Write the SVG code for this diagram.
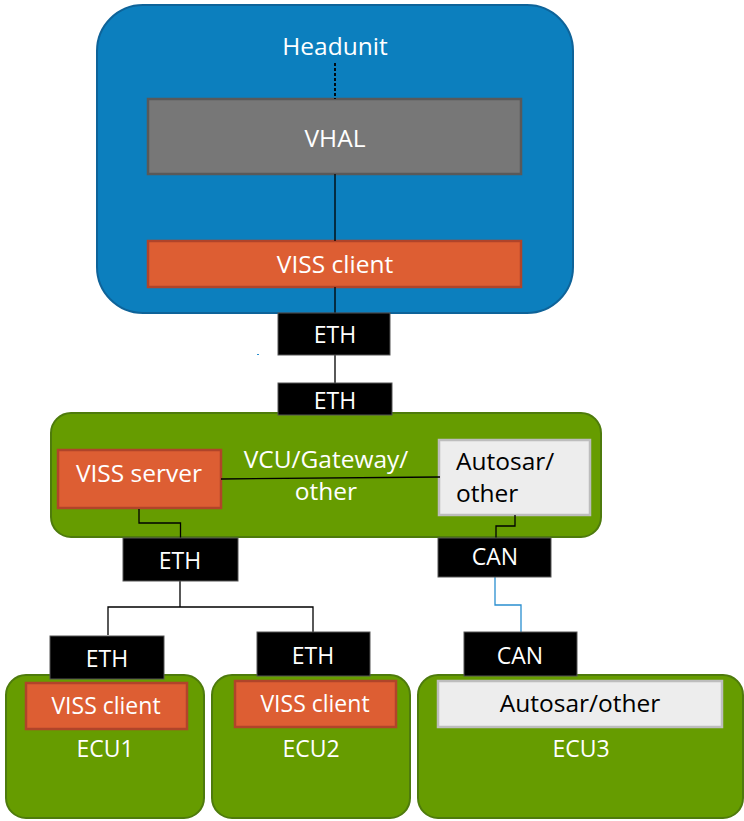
<svg xmlns="http://www.w3.org/2000/svg" width="744" height="821" viewBox="0 0 744 821">
<style>
text{font-family:"Open Sans","Noto Sans","Liberation Sans",sans-serif;font-size:24.5px;text-anchor:middle;fill:#fff}
.sm{font-size:23px}
.dark{fill:#000}
.hu{fill:#0C7FBE;stroke:#0E6399;stroke-width:2}
.green{fill:#669C00;stroke:#4E7B0C;stroke-width:2}
.orange{fill:#DD5E33;stroke:#B0442A;stroke-width:2.5}
.gray{fill:#777;stroke:#595959;stroke-width:2.5}
.light{fill:#EDEDED;stroke:#BDBDBD;stroke-width:2.5}
.port{fill:#000;stroke:#555;stroke-width:1}
.ln{fill:none;stroke:#000;stroke-width:1.3}
.can{fill:none;stroke:#2A8FD0;stroke-width:1.3}
</style>
<g id="headunit">
<rect class="hu" x="97" y="5" width="476" height="308" rx="46"/>
<text x="335" y="55">Headunit</text>
</g>
<g id="vhal">
<rect class="gray" x="148" y="99" width="373" height="75"/>
<text x="335" y="147">VHAL</text>
</g>
<g id="viss-client-hu">
<rect class="orange" x="148" y="241" width="373" height="46"/>
<text x="335" y="273">VISS client</text>
</g>
<g id="vcu">
<rect class="green" x="51" y="413" width="550" height="124" rx="20"/>
<text x="326" y="468">VCU/Gateway/</text>
<text x="326" y="500">other</text>
</g>
<g id="viss-server">
<rect class="orange" x="58" y="450" width="163" height="58"/>
<text x="139" y="482">VISS server</text>
</g>
<g id="autosar-vcu">
<rect class="light" x="439" y="440" width="151" height="75"/>
<text class="dark" x="456" y="470" style="text-anchor:start">Autosar/</text>
<text class="dark" x="456" y="502" style="text-anchor:start">other</text>
</g>
<g id="ecu1">
<rect class="green" x="6" y="675" width="198" height="143" rx="20"/>
<rect class="orange" x="26" y="683" width="161" height="46"/>
<text class="sm" x="106" y="714">VISS client</text>
<text class="sm" x="105" y="757">ECU1</text>
</g>
<g id="ecu2">
<rect class="green" x="212" y="675" width="198" height="143" rx="20"/>
<rect class="orange" x="235" y="681" width="161" height="46"/>
<text class="sm" x="315" y="712">VISS client</text>
<text class="sm" x="311" y="757">ECU2</text>
</g>
<g id="ecu3">
<rect class="green" x="418" y="675" width="325" height="143" rx="20"/>
<rect class="light" x="438" y="681" width="284" height="46"/>
<text class="dark" x="580" y="712">Autosar/other</text>
<text class="sm" x="581" y="757">ECU3</text>
</g>
<g id="connectors">
<line x1="335" y1="63" x2="335" y2="99" stroke="#000" stroke-width="1.8" stroke-dasharray="3,2"/>
<path class="ln" d="M335 174V241M335 287V313M335 355V383"/>
<path class="ln" d="M221 479L440 477"/>
<path class="ln" d="M139 509V523H180.5V538M515 515V526H496V538"/>
<path class="ln" d="M180 581V607M108 635V607H313V632"/>
<path class="can" d="M495 577V605H521V632"/>
<line x1="257" y1="354.5" x2="259" y2="354.5" stroke="#2A8FD0" stroke-width="1"/>
</g>
<g id="ports">
<g id="eth-hu"><rect class="port" x="278" y="313" width="112" height="42"/><text class="sm" x="335" y="343">ETH</text></g>
<g id="eth-vcu"><rect class="port" x="278" y="383" width="114" height="32"/><text class="sm" x="335" y="409">ETH</text></g>
<g id="eth-vcu-down"><rect class="port" x="123" y="538" width="115" height="43"/><text class="sm" x="180" y="569">ETH</text></g>
<g id="can-vcu"><rect class="port" x="438" y="538" width="113" height="39"/><text class="sm" x="495" y="565">CAN</text></g>
<g id="eth-ecu1"><rect class="port" x="50" y="636" width="114" height="43"/><text class="sm" x="107" y="667">ETH</text></g>
<g id="eth-ecu2"><rect class="port" x="257" y="632" width="113" height="44"/><text class="sm" x="313" y="664">ETH</text></g>
<g id="can-ecu3"><rect class="port" x="464" y="632" width="113" height="44"/><text class="sm" x="520" y="664">CAN</text></g>
</g>
</svg>
